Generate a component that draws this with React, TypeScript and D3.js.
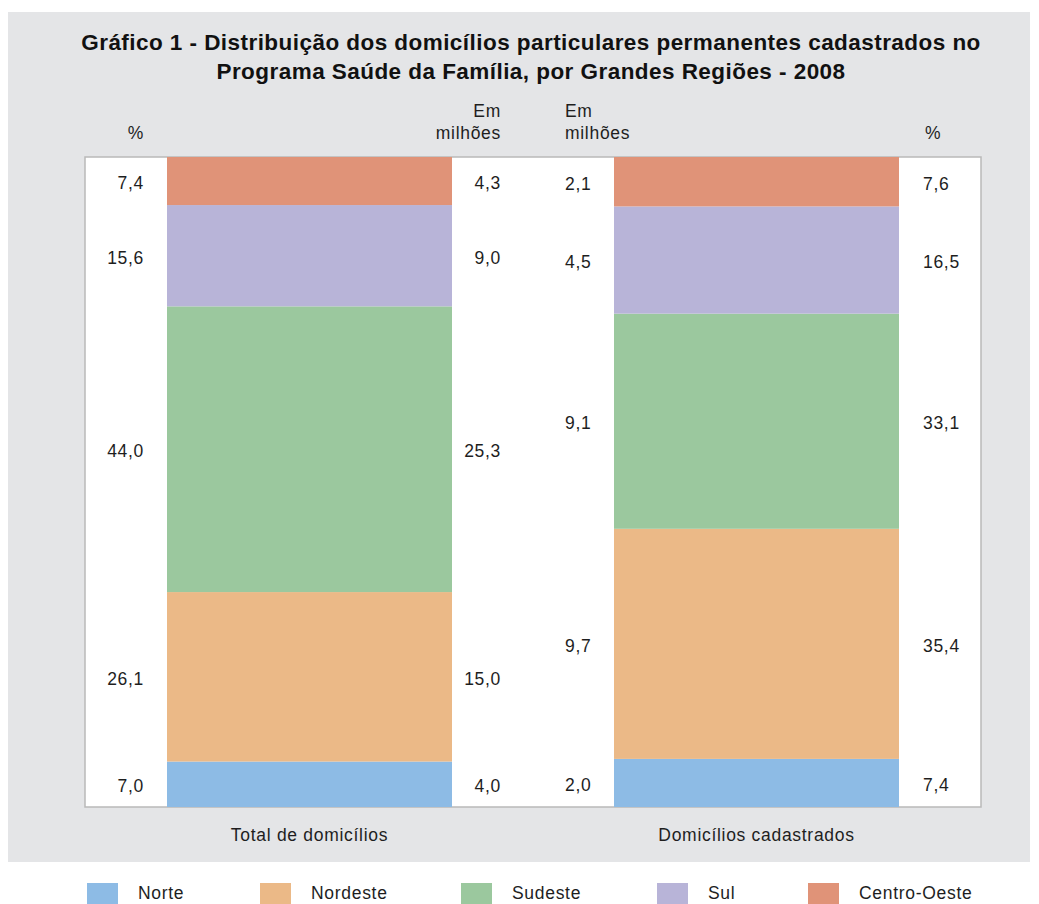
import React from "react";
import * as d3 from "d3";

const regions = ["Norte", "Nordeste", "Sudeste", "Sul", "Centro-Oeste"];
const colors = ["#8dbbe5", "#ebb987", "#9bc89e", "#b8b4d8", "#e09378"];
const barNames = ["Total de domicílios", "Domicílios cadastrados"];
const totalPct = [7.0, 26.1, 44.0, 15.6, 7.4];
const totalMil = [4.0, 15.0, 25.3, 9.0, 4.3];
const cadPct = [7.4, 35.4, 33.1, 16.5, 7.6];
const cadMil = [2.0, 9.7, 9.1, 4.5, 2.1];
const titleLines = [
  "Gráfico 1 - Distribuição dos domicílios particulares permanentes cadastrados no",
  "Programa Saúde da Família, por Grandes Regiões - 2008",
];

const W = 1039;
const H = 904;
const FONT = "'Liberation Sans', Arial, sans-serif";
const FS = 17.5;
const LS = 0.7;
const fmt = (v: number) => v.toFixed(1).replace(".", ",");

export default function App() {
  const plotTop = 157;
  const plotBottom = 807;
  const plotLeft = 85;
  const plotRight = 981;
  const x = d3.scaleBand().domain(barNames).range([167, 899]).paddingInner(162 / 447).paddingOuter(0);
  const bars = [
    { name: barNames[0], pct: totalPct, mil: totalMil },
    { name: barNames[1], pct: cadPct, mil: cadMil },
  ];
  const row: any = (arr: number[]) => {
    const o: any = {};
    regions.forEach((r, i) => (o[r] = arr[i]));
    return o;
  };
  const stack = d3.stack().keys(regions);
  const T = (props: any) => <text fontSize={FS} letterSpacing={LS} fill="#1e1e1e" {...props} />;

  return (
    <svg width={W} height={H} style={{ position: "absolute", left: 0, top: 0, fontFamily: FONT }}>
      <rect x={8} y={12} width={1022} height={850} fill="#e4e5e7" />
      {titleLines.map((t, i) => (
        <text key={i} x={531} y={50 + i * 29} textAnchor="middle" fontSize={22.5} letterSpacing={0.45} fontWeight="bold" fill="#111">
          {t}
        </text>
      ))}
      <rect x={plotLeft} y={plotTop} width={plotRight - plotLeft} height={plotBottom - plotTop} fill="#fff" stroke="#b9b9b9" strokeWidth={1.5} />
      <T x={144} y={139} textAnchor="end">%</T>
      <T x={501} y={117} textAnchor="end">Em</T>
      <T x={501} y={139} textAnchor="end">milhões</T>
      <T x={565} y={117} textAnchor="start">Em</T>
      <T x={565} y={139} textAnchor="start">milhões</T>
      <T x={925} y={139} textAnchor="start">%</T>
      {bars.map((b, bi) => {
        const series = stack([row(b.pct)]);
        const sum = d3.sum(b.pct);
        const y = d3.scaleLinear().domain([0, sum]).range([plotBottom, plotTop]);
        const bx = x(b.name)!;
        const bw = x.bandwidth();
        return (
          <g key={b.name}>
            {series.map((s, i) => {
              const [y0, y1] = s[0];
              const cy = (y(y0) + y(y1)) / 2 + 8;
              const pctX = bi === 0 ? 144 : 923;
              const pctAnchor = bi === 0 ? "end" : "start";
              const milX = bi === 0 ? 501 : 565;
              const milAnchor = bi === 0 ? "end" : "start";
              return (
                <g key={s.key}>
                  <rect x={bx} y={y(y1)} width={bw} height={y(y0) - y(y1)} fill={colors[i]} />
                  <T x={pctX} y={cy} textAnchor={pctAnchor}>{fmt(b.pct[i])}</T>
                  <T x={milX} y={cy} textAnchor={milAnchor}>{fmt(b.mil[i])}</T>
                </g>
              );
            })}
            <T x={bx + bw / 2} y={841} textAnchor="middle">{b.name}</T>
          </g>
        );
      })}
      {regions.map((r, i) => {
        const lx = [87, 260, 461, 657, 808][i];
        return (
          <g key={r}>
            <rect x={lx} y={883} width={31} height={22} fill={colors[i]} />
            <T x={lx + 51} y={899}>{r}</T>
          </g>
        );
      })}
    </svg>
  );
}
